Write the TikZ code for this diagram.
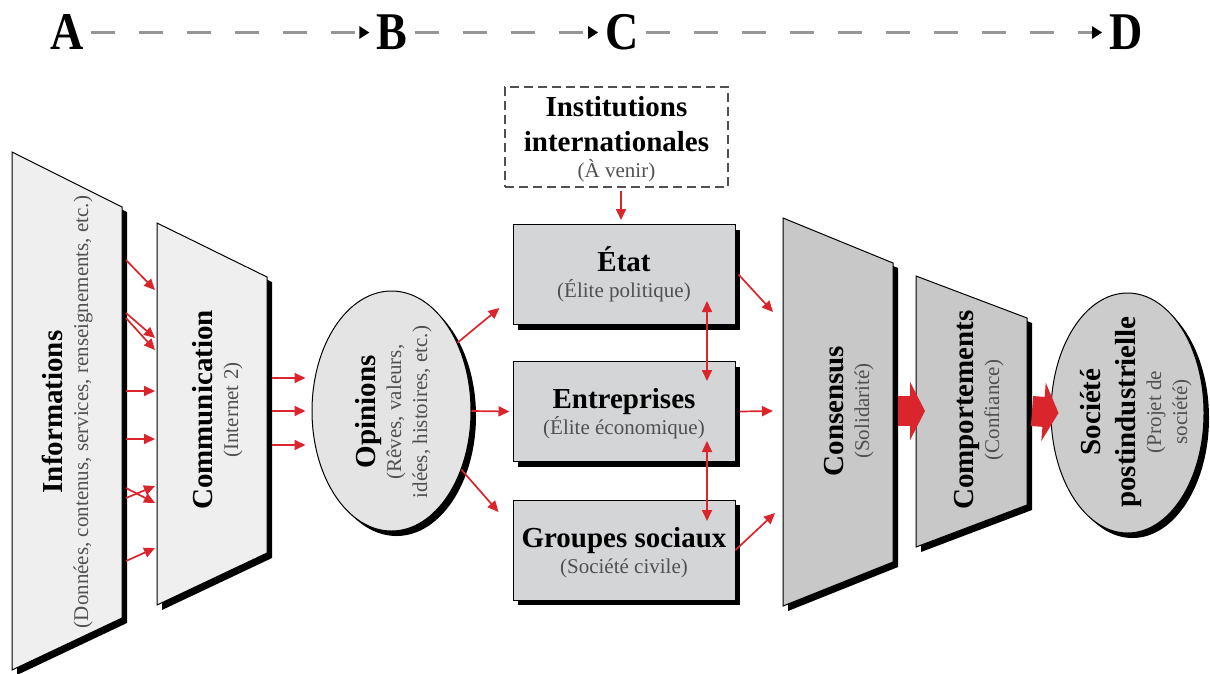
\documentclass[tikz,border=0pt]{standalone}
\usepackage{fontspec}
\setmainfont{Liberation Serif}
\usetikzlibrary{arrows.meta,shadows,shapes.geometric}
\definecolor{lightfill}{RGB}{239,239,239}
\definecolor{boxfill}{RGB}{211,213,214}
\definecolor{opfill}{RGB}{228,228,228}
\definecolor{darkfill}{RGB}{200,200,200}
\definecolor{socfill}{RGB}{204,204,204}
\definecolor{redarr}{RGB}{218,37,45}
\definecolor{subgray}{RGB}{80,80,80}
\definecolor{dashgray}{RGB}{150,150,150}
\newcommand\lblb[1]{{\bfseries\fontsize{29}{26}\selectfont\vphantom{É}#1}}
\newcommand\lbls[1]{{\color{subgray}#1}}

\begin{document}
\begin{tikzpicture}[x=1pt,y=-1pt,
	font=\fontsize{21}{26}\selectfont,
	blk/.style={drop shadow={shadow xshift=5pt,shadow yshift=-5pt,opacity=1,fill=black}},
	trap/.style={draw=black,line width=1pt,blk},
	tbox/.style={draw=black,line width=1pt,fill=boxfill,minimum width=222pt,minimum height=100pt,inner sep=2pt,align=center,blk},
	instbox/.style={draw=subgray,line width=1.5pt,dash pattern=on 9pt off 5pt,minimum width=223pt,minimum height=100pt,inner sep=2pt,align=center},
	oval/.style={ellipse,draw=black,line width=1pt,inner sep=0pt,blk},
	vtxt/.style={rotate=90,align=center,inner sep=0pt},
	rarr/.style={draw=redarr,line width=1.7pt,-{Triangle[length=11pt,width=10pt]}},
	darr/.style={draw=redarr,line width=1.7pt,{Triangle[length=11pt,width=10pt]}-{Triangle[length=11pt,width=10pt]}},
	bigarr/.style={draw=redarr,line width=30pt,-{Triangle[length=15pt,width=58pt]}},
	hdr/.style={inner sep=0pt,font=\fontsize{53}{53}\selectfont\bfseries},
	hline/.style={draw=dashgray,line width=3.5pt,dash pattern=on 24pt off 24pt,shorten <=7pt,shorten >=7pt,-{Triangle[length=10pt,width=12pt,color=black]}}]
	\useasboundingbox (0,0) rectangle (1210,673);

	\node[hdr] (A) at (67,32.5) {\scalebox{.87}[1]{A}};
	\node[hdr] (B) at (392,32.5) {\scalebox{.87}[1]{B}};
	\node[hdr] (C) at (622,32.5) {\scalebox{.87}[1]{C}};
	\node[hdr] (D) at (1126,32.5) {\scalebox{.87}[1]{D}};
	\draw[hline] (A) -- (B);
	\draw[hline] (B) -- (C);
	\draw[hline] (C) -- (D);

	\draw[trap,fill=lightfill] (12,152) -- (122,207) -- (122,618) -- (12,670) -- cycle;
	\draw[trap,fill=lightfill] (157,223) -- (267,277) -- (267,553) -- (157,605) -- cycle;
	\draw[trap,fill=darkfill] (783,218) -- (893,263) -- (893,562) -- (783,606) -- cycle;
	\draw[trap,fill=darkfill] (916,276) -- (1027,318) -- (1027,505) -- (916,547) -- cycle;
	\coordinate (infoE) at (126,410);
	\coordinate (commW) at (155,410);
	\coordinate (commE) at (272,411);
	\coordinate (consW) at (782,411);
	\coordinate (consE) at (898,411);
	\coordinate (compW) at (916,411);
	\coordinate (compE) at (1032,411);

	\node[oval,fill=opfill,minimum width=159pt,minimum height=240pt] (opin) at (391.5,411) {};
	\node[oval,fill=socfill,minimum width=153pt,minimum height=240pt] (soc) at (1127.5,413) {};

	\node[vtxt] (infotxt) at (65,412) {\lblb{Informations}\\\lbls{(Données, contenus, services, renseignements, etc.)}};
	\node[vtxt] (commtxt) at (214.8,410) {\lblb{Communication}\\\lbls{(Internet 2)}};
	\node[vtxt] (opintxt) at (390.8,412) {\lblb{Opinions}\\\lbls{(Rêves, valeurs,}\\\lbls{idées, histoires, etc.)}};
	\node[vtxt] (constxt) at (845.8,411) {\lblb{Consensus}\\\lbls{(Solidarité)}};
	\node[vtxt] (comptxt) at (975.8,410) {\lblb{Comportements}\\\lbls{(Confiance)}};
	\node[vtxt] (soctxt) at (1133.3,412) {\lblb{Société}\\[9pt]\lblb{postindustrielle}\\\lbls{(Projet de}\\\lbls{société)}};

	\node[instbox] (inst) at (616.5,137) {\lblb{Institutions}\\[9pt]\lblb{internationales}\\\lbls{(À venir)}};
	\node[tbox] (etat) at (624,274.5) {\lblb{État}\\\lbls{(Élite politique)}};
	\node[tbox] (entr) at (624,411.5) {\lblb{Entreprises}\\\lbls{(Élite économique)}};
	\node[tbox] (grp) at (624,550) {\lblb{Groupes sociaux}\\\lbls{(Société civile)}};

	\foreach \a/\b in {150/120,97/72,92/60,19/19,-29/-29,-88/-76,-78/-93,-151/-138}
		\draw[rarr] ([yshift=\a pt]infoE) -- ([yshift=\b pt]commW);
	\foreach \d in {33,0,-34}
		\draw[rarr] ([yshift=\d pt]commE) -- ([xshift=-6pt,yshift=\d pt]opin.west);
	\draw[rarr] ([xshift=4.5pt,yshift=-3pt]inst.south) -- ([xshift=-3pt,yshift=4pt]etat.north);
	\draw[rarr] (opin.46) -- ([xshift=-13pt,yshift=-33.5pt]etat.west);
	\draw[rarr] (opin.east) -- ([xshift=-3pt]entr.west);
	\draw[rarr] (opin.-40) -- ([xshift=-14pt,yshift=38pt]grp.west);
	\draw[darr] ([xshift=83pt,yshift=-26.5pt]etat.center) -- ([xshift=83pt,yshift=30.5pt]entr.center);
	\draw[darr] ([xshift=83pt,yshift=-29.5pt]entr.center) -- ([xshift=83pt,yshift=29pt]grp.center);
	\draw[rarr] ([xshift=3pt]etat.east) -- ([xshift=-9pt,yshift=99pt]consW);
	\draw[rarr] ([xshift=4pt]entr.east) -- ([xshift=-9pt]consW);
	\draw[rarr] (grp.east) -- ([xshift=-7pt,yshift=-102pt]consW);
	\draw[bigarr] (consE) -- ([xshift=9pt]compW);
	\draw[bigarr] (compE) -- ([xshift=8pt]soc.west);
\end{tikzpicture}
\end{document}
